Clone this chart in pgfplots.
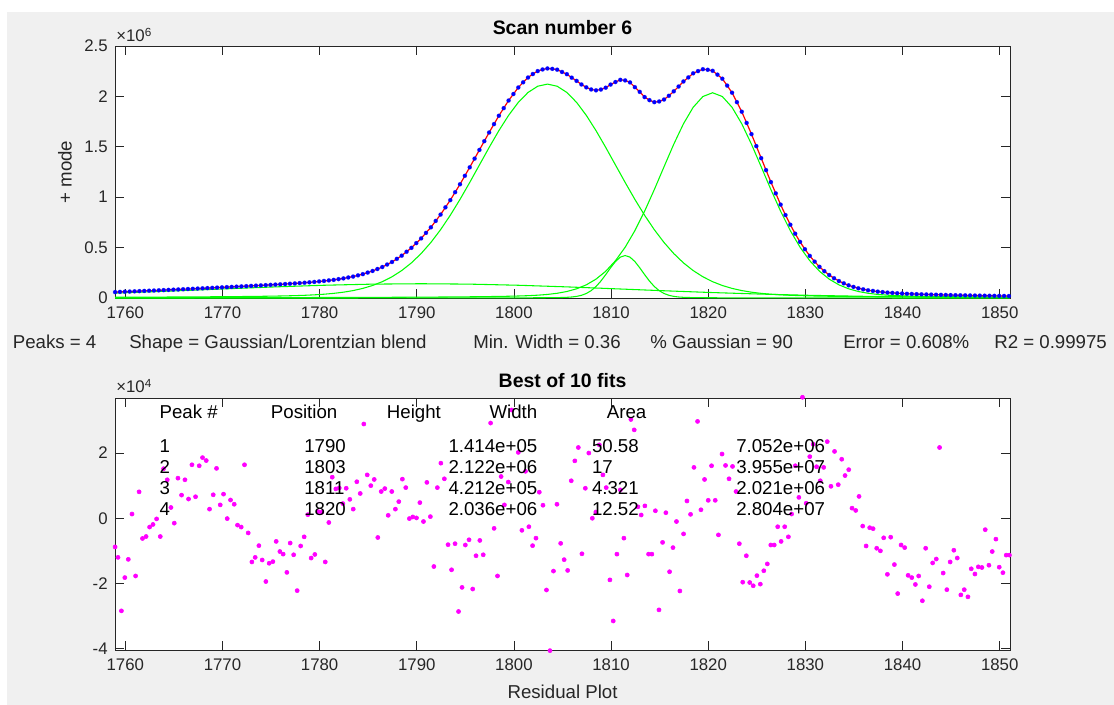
\documentclass[border=0pt]{standalone}
\usepackage{fontspec}
\setmainfont{Liberation Sans}
\usepackage{pgfplots}
\usepackage{pgfplotstable}
\pgfplotsset{compat=1.18}
\definecolor{figbg}{RGB}{240,240,240}
\definecolor{axgray}{RGB}{38,38,38}
\definecolor{mgreen}{RGB}{0,255,0}
\definecolor{mblue}{RGB}{0,0,255}
\definecolor{mred}{RGB}{255,0,0}
\definecolor{mmag}{RGB}{255,0,255}

\pgfplotstableread{
x y
1758.95 58550
1759.45 60403
1759.95 62255
1760.45 64106
1760.95 66108
1761.45 68109
1761.95 70121
1762.45 72132
1762.95 74189
1763.45 76245
1763.95 78322
1764.45 80399
1764.95 82501
1765.45 84603
1765.95 86871
1766.45 89138
1766.95 91420
1767.45 93702
1767.95 95995
1768.45 98287
1768.95 100615
1769.45 102943
1769.95 105297
1770.45 107650
1770.95 110043
1771.45 112436
1771.95 114845
1772.45 117253
1772.95 119867
1773.45 122481
1773.95 125081
1774.45 127680
1774.95 130425
1775.45 133170
1775.95 135875
1776.45 138580
1776.95 141571
1777.45 144562
1777.95 147959
1778.45 151355
1778.95 155340
1779.45 159324
1779.95 164141
1780.45 168957
1780.95 174455
1781.45 179952
1781.95 187071
1782.45 194189
1782.95 203429
1783.45 212668
1783.95 224724
1784.45 236779
1784.95 252436
1785.45 268092
1785.95 287631
1786.45 307169
1786.95 332139
1787.45 357108
1787.95 388535
1788.45 419962
1788.95 458792
1789.45 497621
1789.95 544506
1790.45 591390
1790.95 646194
1791.45 700998
1791.95 764373
1792.45 827748
1792.95 899304
1793.45 970860
1793.95 1049570
1794.45 1128280
1794.95 1212310
1795.45 1296340
1795.95 1382740
1796.45 1469140
1796.95 1555570
1797.45 1642000
1797.95 1724920
1798.45 1807840
1798.95 1883500
1799.45 1959160
1799.95 2023690
1800.45 2088220
1800.95 2140000
1801.45 2187130
1801.95 2222000
1802.45 2251120
1802.95 2267000
1803.45 2276970
1803.95 2273000
1804.45 2265130
1804.95 2242330
1805.45 2220270
1805.95 2185740
1806.45 2153960
1806.95 2118170
1807.45 2089720
1807.95 2068690
1808.45 2060180
1808.95 2068070
1809.45 2086150
1809.95 2117420
1810.45 2142590
1810.95 2164310
1811.45 2158330
1811.95 2138590
1812.45 2091150
1812.95 2045125
1813.45 1993000
1813.95 1962750
1814.45 1942700
1814.95 1949610
1815.45 1969040
1815.95 2006030
1816.45 2050360
1816.95 2097800
1817.45 2148000
1817.95 2188120
1818.45 2228990
1818.95 2251000
1819.45 2269580
1819.95 2264000
1820.45 2253960
1820.95 2216000
1821.45 2175480
1821.95 2107000
1822.45 2036505
1822.95 1943000
1823.45 1847930
1823.95 1736830
1824.45 1625730
1824.95 1506520
1825.45 1387310
1825.95 1268645
1826.45 1149980
1826.95 1038220
1827.45 926465
1827.95 823000
1828.45 726850
1828.95 638000
1829.45 556640
1829.95 484000
1830.45 417850
1830.95 361000
1831.45 309560
1831.95 266000
1832.45 227850
1832.95 196000
1833.45 168150
1833.95 145500
1834.45 125700
1834.95 110000
1835.45 96340
1835.95 86000
1836.45 76670
1836.95 69940
1837.45 63210
1837.95 58535
1838.45 53860
1838.95 50470
1839.45 47080
1839.95 44515
1840.45 41950
1840.95 40090
1841.45 38230
1841.95 36685
1842.45 35140
1842.95 33795
1843.45 32450
1843.95 31215
1844.45 29980
1844.95 28890
1845.45 27800
1845.95 26930
1846.45 26060
1846.95 25240
1847.45 24420
1847.95 23650
1848.45 22880
1848.95 22155
1849.45 21430
1849.95 20745
1850.45 20060
1850.95 19470
}\fitdata

\pgfplotstableread{
x c1 c2 c4
1758.95 48960 7460 2090
1759.45 50580 7630 2120
1760.45 53860 7980 2190
1761.45 57410 8350 2270
1762.45 60960 8740 2350
1763.45 64560 9170 2430
1764.45 68180 9620 2510
1765.45 71800 10110 2600
1766.45 75700 10640 2700
1767.45 79600 11200 2800
1768.45 83450 11820 2910
1769.45 87330 12480 3020
1770.45 91190 13200 3140
1771.45 95050 13990 3270
1772.45 98880 14840 3400
1773.45 102680 16110 3550
1774.45 106450 17380 3700
1775.45 110190 18950 3870
1776.45 113470 20900 4040
1777.45 116740 23420 4220
1778.45 119990 26740 4430
1779.45 123220 31260 4640
1780.45 126420 37450 4870
1781.45 128670 45940 5110
1782.45 130910 57650 5380
1783.45 133130 73600 5670
1784.45 135310 95200 5980
1785.45 137470 124000 6310
1786.45 138350 161800 6680
1787.45 139170 210500 7070
1788.45 139960 272100 7500
1789.45 140700 348500 7980
1790.45 141400 441000 8500
1791.45 140700 550700 9060
1792.45 139960 677500 9690
1793.45 139170 820700 10390
1794.45 138350 978100 11160
1795.45 137470 1146100 12010
1796.45 135310 1320000 12970
1797.45 133130 1493700 14190
1798.45 130910 1660200 15600
1799.45 128670 1811800 17370
1800.45 126420 1940500 19730
1801.45 123220 2039000 23030
1802.45 119990 2100900 27930
1803.45 116740 2122000 35360
1804.45 113470 2100900 46830
1805.45 110190 2039000 64440
1806.45 106450 1940500 91130
1807.45 102680 1811800 130500
1808.45 98880 1660200 187100
1809.45 95050 1493700 265400
1810.45 91190 1320000 369900
1811.45 87330 1146100 503700
1812.45 83450 978100 668100
1813.45 79600 820700 860700
1814.45 75700 677500 1075500
1815.45 71800 550700 1301800
1816.45 68180 441000 1525300
1817.45 64560 348500 1728300
1818.45 60960 272100 1892000
1819.45 57410 210500 1998800
1820.45 53860 161800 2036000
1821.45 50800 124000 1998800
1822.45 47740 95200 1892000
1823.45 44710 73600 1728300
1824.45 41650 57650 1525300
1825.45 38590 45940 1301800
1826.45 36170 37450 1075500
1827.45 33750 31260 860700
1828.45 31340 26740 668100
1829.45 28920 23420 503700
1830.45 26510 20900 369900
1831.45 24720 18950 265400
1832.45 22930 17380 187100
1833.45 21140 16110 130500
1834.45 19360 14840 91130
1835.45 17570 13990 64440
1836.45 16330 13200 46830
1837.45 15080 12480 35360
1838.45 13840 11820 27930
1839.45 12600 11200 23030
1840.45 11350 10640 19730
1841.45 10530 10110 17370
1842.45 9720 9620 15600
1843.45 8900 9170 14190
1844.45 8090 8740 12970
1845.45 7270 8350 12010
1846.45 6760 7980 11160
1847.45 6250 7630 10390
1848.45 5740 7310 9690
1849.45 5220 7010 9060
1850.45 4710 6720 8500
1851.05 4480 6560 8190
}\compdata

\pgfplotstableread{
x c3
1758.95 71
1771.45 122
1781.45 217
1791.45 490
1796.45 860
1799.45 1320
1801.45 1880
1802.45 2300
1803.45 2870
1804.45 3930
1804.95 4910
1805.45 6640
1805.95 9880
1806.45 15880
1806.95 26640
1807.45 44740
1807.95 73110
1808.45 114000
1808.95 167900
1809.45 232000
1809.95 299800
1810.45 361500
1810.95 405200
1811.45 421200
1811.95 405200
1812.45 361500
1812.95 299800
1813.45 232000
1813.95 167900
1814.45 114000
1814.95 73110
1815.45 44740
1815.95 26640
1816.45 15880
1816.95 9880
1817.45 6640
1817.95 4910
1818.45 3930
1819.45 2870
1820.45 2300
1821.45 1880
1823.45 1320
1826.45 860
1831.45 490
1841.45 217
1851.05 126
}\peakthree

\pgfplotstableread{
x y
1758.95 -0.88
1759.25 -1.20
1759.60 -2.84
1759.95 -1.82
1760.31 -1.26
1760.69 0.13
1761.06 -1.77
1761.42 0.81
1761.77 -0.62
1762.14 -0.56
1762.50 -0.27
1762.85 -0.19
1763.22 -0.02
1763.60 -0.56
1763.94 1.52
1764.32 1.18
1764.70 0.33
1765.04 -0.15
1765.42 1.23
1765.79 0.71
1766.14 1.18
1766.51 0.59
1766.86 1.64
1767.23 0.66
1767.61 1.61
1767.95 1.86
1768.33 1.77
1768.67 0.28
1769.05 0.72
1769.39 1.53
1769.77 0.41
1770.11 0.74
1770.49 -0.01
1770.83 0.56
1771.21 0.43
1771.55 -0.21
1771.93 -0.27
1772.27 1.64
1772.65 -0.45
1773.03 -1.34
1773.37 -1.20
1773.75 -0.84
1774.09 -1.28
1774.47 -1.94
1774.81 -1.38
1775.19 -1.33
1775.53 -0.71
1775.91 -1.02
1776.25 -1.10
1776.63 -1.66
1776.97 -0.76
1777.33 -1.12
1777.69 -2.22
1778.05 -0.85
1778.41 -0.57
1778.79 0.11
1779.13 -1.22
1779.51 -1.11
1779.87 0.20
1780.23 0.19
1780.58 -1.34
1780.95 -0.13
1781.30 1.26
1781.67 0.90
1782.02 0.93
1782.39 0.45
1782.74 0.92
1783.11 0.58
1783.46 0.28
1783.83 1.12
1784.18 0.76
1784.55 2.89
1784.90 1.33
1785.27 1.00
1785.62 1.19
1785.99 -0.59
1786.34 0.82
1786.71 0.91
1787.06 0.09
1787.43 0.82
1787.80 0.28
1788.15 0.51
1788.52 1.20
1788.87 0.94
1789.24 -0.01
1789.59 0.04
1789.97 0.01
1790.32 0.48
1790.69 -0.10
1791.04 1.10
1791.40 0.05
1791.76 -1.48
1792.12 0.94
1792.48 1.69
1792.84 1.21
1793.22 -0.81
1793.58 -1.58
1793.94 -0.78
1794.30 -2.86
1794.66 -2.12
1795.00 -0.82
1795.38 -0.66
1795.76 -2.17
1796.10 -1.15
1796.49 -0.68
1796.84 -1.12
1797.60 2.92
1797.96 -0.31
1798.31 -1.77
1798.68 1.28
1799.02 0.41
1799.42 1.11
1799.77 3.32
1800.45 2.02
1800.82 -0.37
1801.19 1.44
1801.54 -0.26
1801.92 -0.84
1802.27 -0.61
1802.61 0.80
1802.99 0.40
1803.35 -2.20
1803.71 -4.06
1804.07 -1.62
1804.43 0.43
1804.81 -0.77
1805.17 -1.27
1805.53 -1.60
1805.90 1.15
1806.27 1.76
1806.63 2.17
1807.00 -1.09
1807.35 0.92
1807.71 2.00
1808.07 0.00
1808.43 0.19
1808.79 2.25
1809.16 1.33
1809.50 0.94
1809.88 -1.89
1810.22 -3.15
1810.60 -1.10
1810.95 0.87
1811.32 -0.61
1811.66 -1.74
1812.04 3.03
1812.38 2.71
1812.76 0.35
1813.10 0.10
1813.48 0.38
1813.86 -1.10
1814.20 -1.10
1814.56 0.23
1814.93 -2.81
1815.30 -0.74
1815.64 0.17
1816.02 -1.64
1816.37 -0.90
1816.73 -0.10
1817.08 -2.23
1817.46 -0.48
1817.81 0.53
1818.18 0.12
1818.53 1.56
1818.90 2.97
1819.25 0.26
1819.62 1.19
1820.00 0.55
1820.34 1.61
1820.72 0.55
1821.05 -0.51
1821.42 1.97
1821.78 1.62
1822.14 1.21
1822.50 1.59
1822.86 0.82
1823.20 -0.78
1823.55 -1.96
1823.92 -1.15
1824.27 -1.97
1824.63 -2.07
1825.01 -1.76
1825.36 -2.02
1825.72 -1.61
1826.08 -1.40
1826.44 -0.82
1826.79 -0.82
1827.15 -0.26
1827.50 -0.71
1827.87 -0.26
1828.25 -0.57
1828.58 0.13
1828.96 1.61
1829.33 0.64
1829.70 3.71
1830.08 0.46
1830.45 1.89
1830.80 2.27
1831.15 1.58
1831.53 1.15
1831.88 1.56
1832.25 2.35
1832.63 0.98
1833.00 2.05
1833.38 1.03
1833.74 1.81
1834.08 1.31
1834.46 1.49
1834.80 0.31
1835.18 0.24
1835.52 0.67
1835.90 -0.24
1836.25 -0.85
1836.62 -0.29
1836.97 -0.32
1837.34 -0.92
1837.72 -1.00
1838.06 -0.60
1838.44 -1.72
1838.78 -0.58
1839.16 -1.42
1839.50 -2.31
1839.85 -0.82
1840.22 -0.90
1840.57 -1.75
1840.95 -1.82
1841.32 -2.03
1841.66 -1.77
1842.04 -2.53
1842.38 -0.92
1842.75 -2.10
1843.10 -1.37
1843.47 -1.25
1843.81 2.17
1844.18 -1.68
1844.56 -2.19
1844.90 -1.34
1845.28 -0.98
1845.63 -1.22
1846.00 -2.35
1846.35 -2.19
1846.73 -2.41
1847.07 -1.55
1847.45 -1.71
1847.80 -1.49
1848.17 -1.51
1848.51 -0.35
1848.89 -1.44
1849.23 -1.02
1849.61 -0.64
1849.95 -1.50
1850.33 -1.67
1850.67 -1.13
1851.00 -1.13
}\resdata

\pgfplotsset{
  mstyle/.style={
    scale only axis,
    width=671.25pt,
    xmin=1758.94, xmax=1851.06,
    axis background/.style={fill=white},
    axis line style={axgray, line width=0.6pt},
    tick style={axgray, line width=0.6pt},
    tick align=inside,
    major tick length=6.75pt,
    xtick={1760,1770,1780,1790,1800,1810,1820,1830,1840,1850},
    xticklabels={1760,1770,1780,1790,1800,1810,1820,1830,1840,1850},
    scaled x ticks=false, scaled y ticks=false,
    ticklabel style={font=\fontsize{12.6}{14}\selectfont, text=axgray},
    xticklabel style={yshift=-3pt},
    yticklabel style={xshift=-2pt},
    clip=false,
  }
}

\newcommand{\lf}{\fontsize{14}{16}\selectfont}
\newcommand{\tf}{\fontsize{14.6}{16.5}\selectfont}

\begin{document}
\begin{tikzpicture}
\fill[white] (0pt,0pt) rectangle (835.5pt,-528.75pt);
\fill[figbg] (5.25pt,-9pt) rectangle (835.5pt,-528.75pt);

\begin{axis}[mstyle,
  at={(86.25pt,-34.5pt)}, anchor=north west,
  height=189pt,
  ymin=0, ymax=2500000,
  ytick={0,500000,1000000,1500000,2000000,2500000},
  yticklabels={0,0.5,1,1.5,2,2.5},
]
\addplot[only marks, mark=*, mark size=1.5pt, mark options={draw=mblue, fill=mblue, draw opacity=0.5}] table[x=x,y=y]{\fitdata};
\addplot[mgreen, line width=0.8pt] table[x=x,y=c1]{\compdata};
\addplot[mgreen, line width=0.8pt] table[x=x,y=c2]{\compdata};
\addplot[mgreen, line width=0.8pt] table[x=x,y=c3]{\peakthree};
\addplot[mgreen, line width=0.8pt] table[x=x,y=c4]{\compdata};
\addplot[mred, line width=0.9pt] table[x=x,y=y]{\fitdata};
\end{axis}

\begin{axis}[mstyle,
  at={(86.25pt,-298.7pt)}, anchor=north west,
  height=188.8pt,
  ymin=-4.04, ymax=3.68,
  ytick={-4,-2,0,2},
  yticklabels={-4,-2,0,2},
]
\addplot[only marks, mark=*, mark size=1.55pt, mark options={draw=mmag, fill=mmag}] table[x=x,y=y]{\resdata};
\end{axis}

% titles and labels
\node[anchor=base, font=\tf\bfseries] at (421.9pt,-26.25pt) {Scan number 6};
\node[anchor=base, font=\tf\bfseries] at (421.9pt,-290.5pt) {Best of 10 fits};
\node[anchor=center, rotate=90, font=\lf, text=axgray] at (48.75pt,-129pt) {+ mode};
\node[anchor=base west, inner sep=0pt, font=\fontsize{12.6}{14}\selectfont, text=axgray] at (87pt,-31.5pt) {×10\textsuperscript{6}};
\node[anchor=base west, inner sep=0pt, font=\fontsize{12.6}{14}\selectfont, text=axgray] at (87pt,-294.75pt) {×10\textsuperscript{4}};
\node[anchor=base, font=\lf, text=axgray] at (421.9pt,-524pt) {Residual Plot};

% x label line of the upper plot
\begin{scope}[every node/.style={anchor=base west, inner sep=0pt, font=\lf, text=axgray}]
\node at (9.4pt,-261.5pt) {Peaks = 4};
\node at (96.75pt,-261.5pt) {Shape = Gaussian/Lorentzian blend};
\node at (354.75pt,-261.5pt) {Min. Width = 0.36};
\node at (487.5pt,-261.5pt) {\% Gaussian = 90};
\node at (632.25pt,-261.5pt) {Error = 0.608\%};
\node at (745.5pt,-261.5pt) {R2 = 0.99975};
\end{scope}

% peak table
\begin{scope}[every node/.style={anchor=base west, inner sep=0pt, font=\lf, text=black}]
\node at (119.5pt,-314.25pt) {Peak \#};
\node at (203.0pt,-314.25pt) {Position};
\node at (290.0pt,-314.25pt) {Height};
\node at (367.0pt,-314.25pt) {Width};
\node at (455.0pt,-314.25pt) {Area};
\node at (119.5pt,-339.15pt) {1};
\node at (119.5pt,-354.9pt) {2};
\node at (119.5pt,-370.65pt) {3};
\node at (119.5pt,-386.4pt) {4};
\node at (228pt,-339.15pt) {1790};
\node at (228pt,-354.9pt) {1803};
\node at (228pt,-370.65pt) {1811};
\node at (228pt,-386.4pt) {1820};
\node at (336.2pt,-339.15pt) {1.414e+05};
\node at (336.2pt,-354.9pt) {2.122e+06};
\node at (336.2pt,-370.65pt) {4.212e+05};
\node at (336.2pt,-386.4pt) {2.036e+06};
\node at (443.8pt,-339.15pt) {50.58};
\node at (443.8pt,-354.9pt) {17};
\node at (443.8pt,-370.65pt) {4.321};
\node at (443.8pt,-386.4pt) {12.52};
\node at (552pt,-339.15pt) {7.052e+06};
\node at (552pt,-354.9pt) {3.955e+07};
\node at (552pt,-370.65pt) {2.021e+06};
\node at (552pt,-386.4pt) {2.804e+07};
\end{scope}
\end{tikzpicture}
\end{document}
